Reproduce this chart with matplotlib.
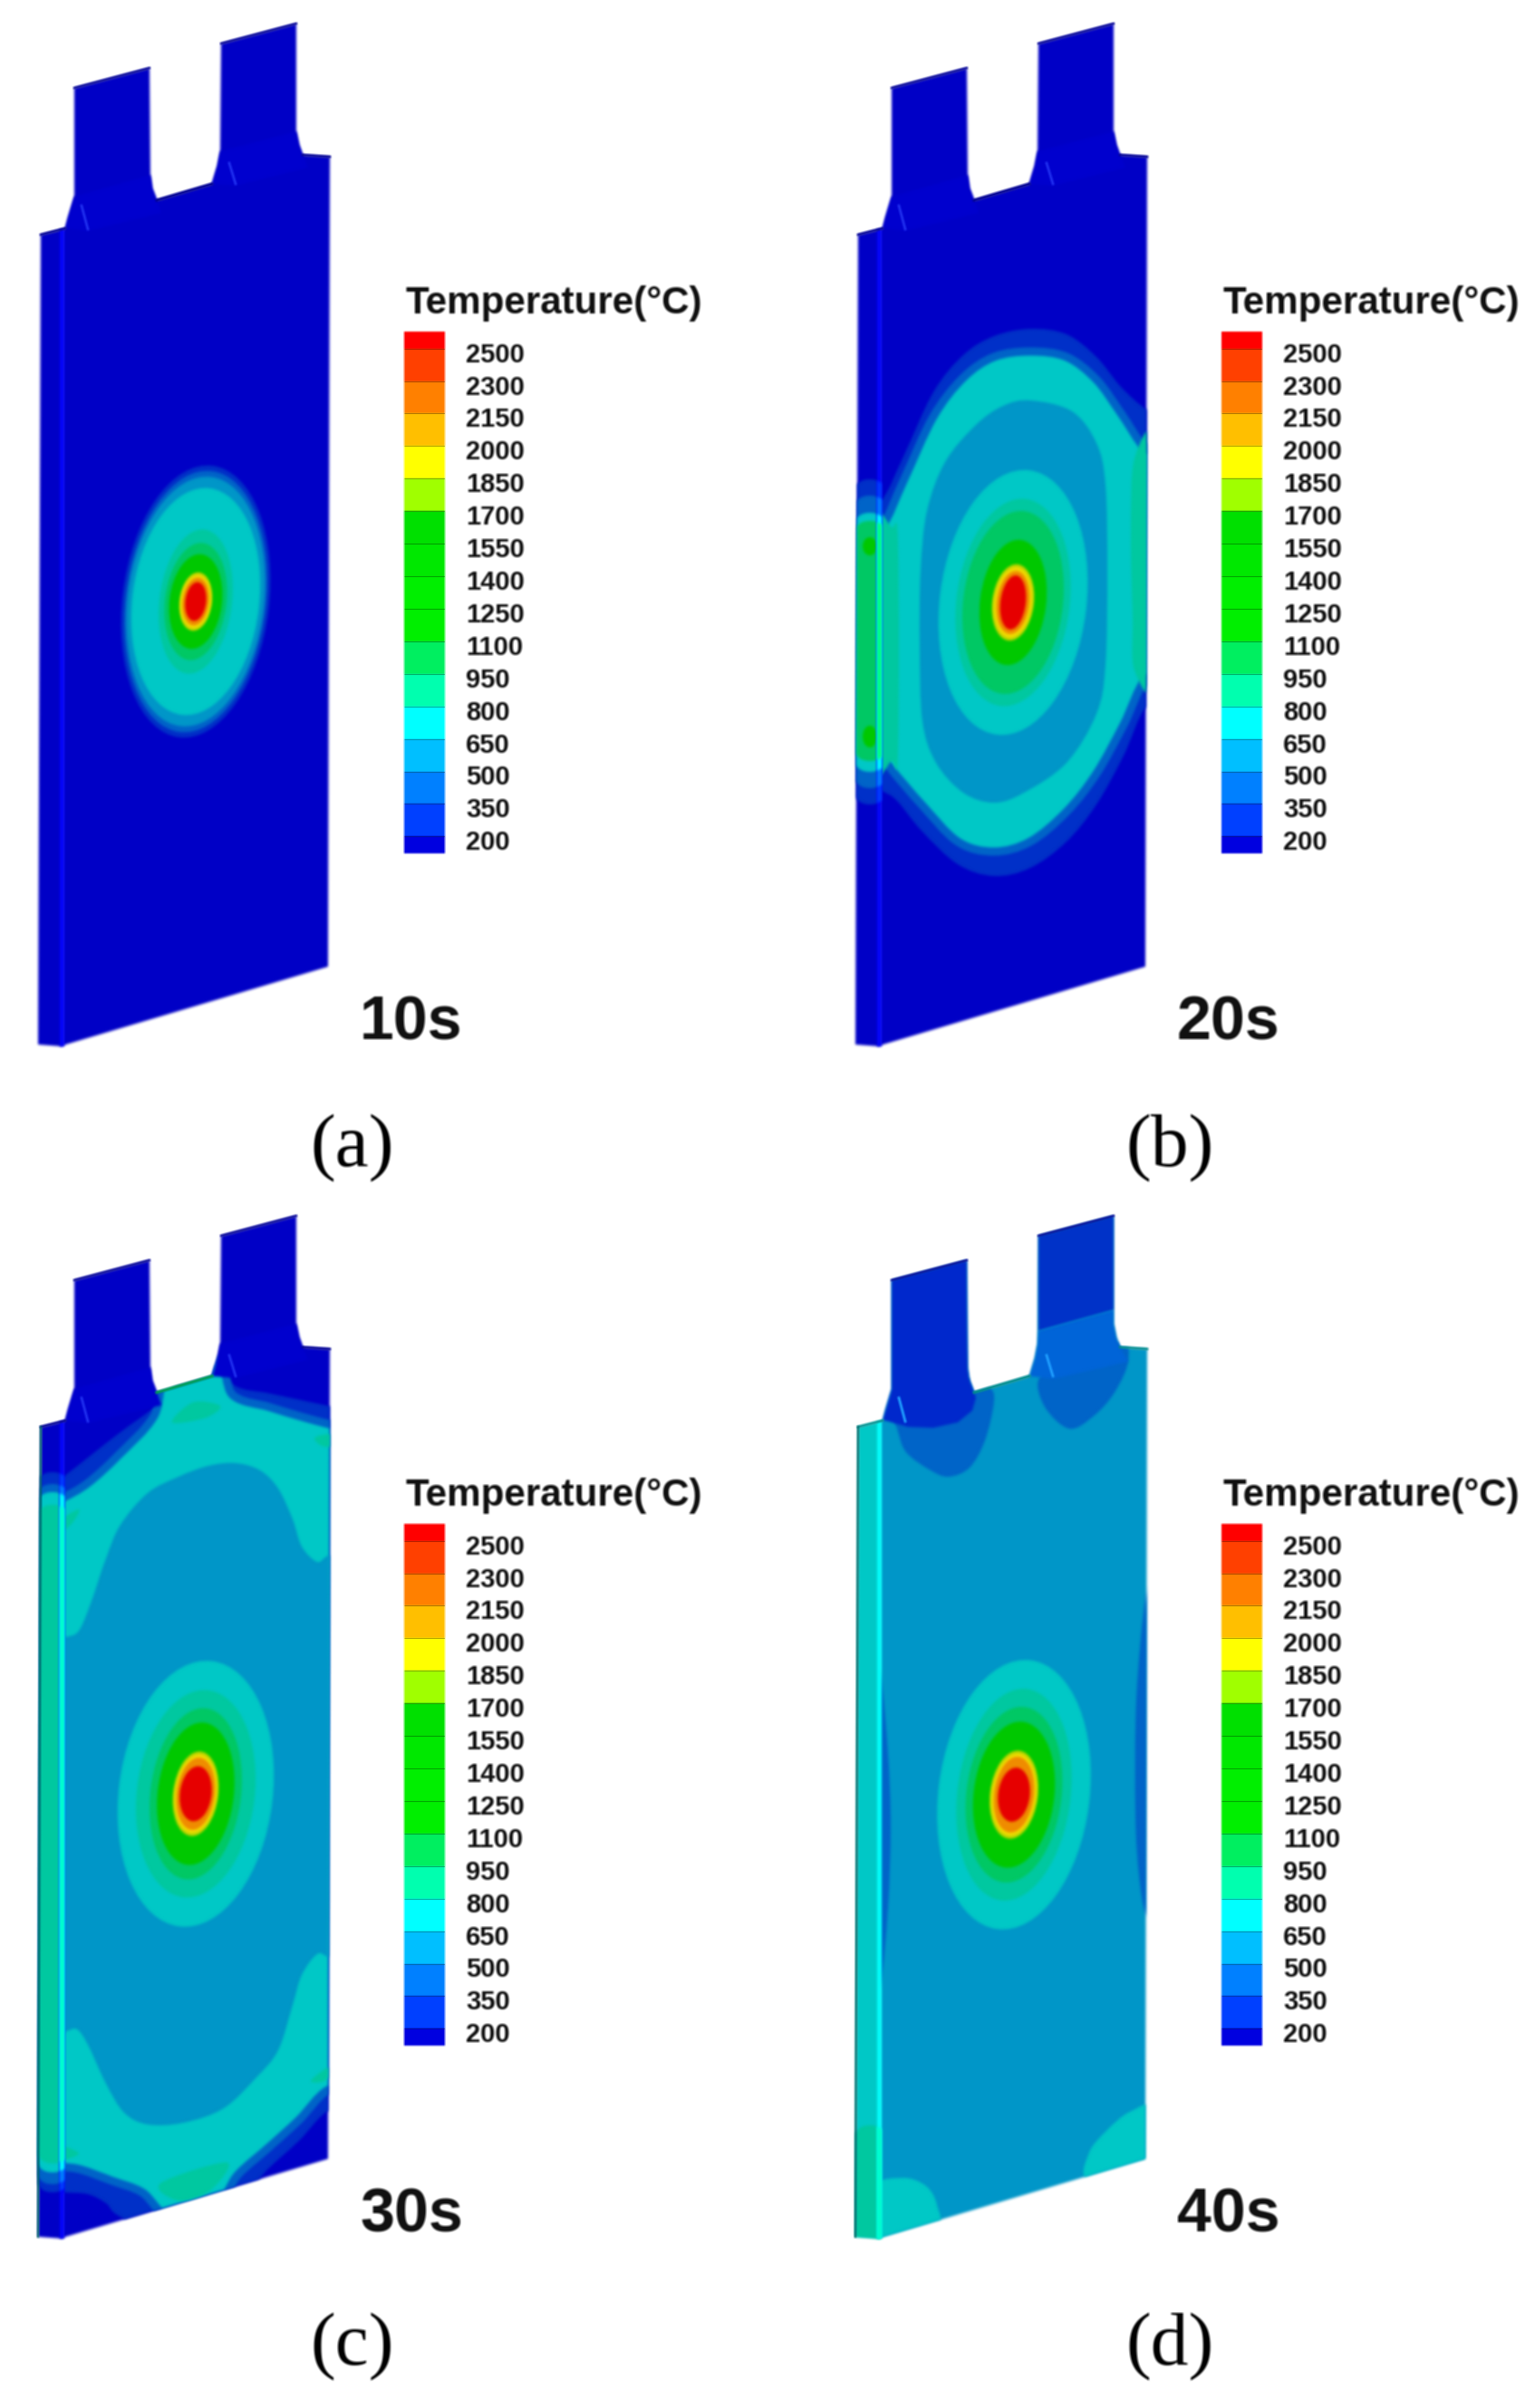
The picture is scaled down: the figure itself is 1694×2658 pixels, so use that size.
import numpy as np
import matplotlib
matplotlib.use('Agg')
import matplotlib.pyplot as plt
from matplotlib.patches import Ellipse, FancyBboxPatch, PathPatch, Polygon
from matplotlib.path import Path

plt.rcParams['font.family'] = ['Liberation Sans', 'DejaVu Sans']

# colour bar
level_labels = [2500, 2300, 2150, 2000, 1850, 1700, 1550, 1400, 1250, 1100, 950, 800, 650, 500, 350, 200]
band_colors = ['#ff0000', '#ff4000', '#ff8000', '#ffbf00', '#ffff00', '#a0ff00', '#00e000', '#00e800',
               '#00f000', '#00f000', '#00f060', '#00ffb0', '#00ffff', '#00bfff', '#0080ff', '#0040ff', '#0000e0']

# colours of the lit plate surface for each level
plate_colors = {200: '#0000c6', 350: '#0030c8', 500: '#0064c8', 650: '#0096c8', 800: '#00c8c6',
                950: '#00c8a0', 1100: '#00c864', 1250: '#00c800', 1850: '#b0d400', 2000: '#f0dc00',
                2150: '#f08c00', 2500: '#e60000'}

time_labels = ['10s', '20s', '30s', '40s']
captions = ['(a)', '(b)', '(c)', '(d)']

# plate outline, pixels of one panel
front_face = [(69, 253), (72, 252), (75, 240), (82, 217), (82, 97), (165, 75), (166, 193), (168, 208), (173, 221),
              (234, 203), (240, 183), (243, 167), (244, 48), (327, 26), (327, 145), (330, 160), (334, 171),
              (364, 173), (362, 1067), (69, 1154)]
side_face = [(45, 259), (69, 253), (69, 1155), (42, 1153)]
stripe = [(66, 253), (71, 253), (71, 1155), (66, 1155)]
tab_flares = [[(82, 217), (166, 193), (173, 221), (178, 235), (97, 255), (72, 252)],
              [(243, 167), (327, 145), (334, 171), (340, 185), (260, 205), (234, 203)]]
creases = [[(90, 227), (97, 253)], [(253, 180), (260, 203)]]
tab_tops = [[(82, 97), (165, 75)], [(244, 48), (327, 26)]]
notch = [(173, 221), (234, 203)]
shoulders = [[(45, 259), (72, 252)], [(334, 171), (364, 173)]]
left_edge = [(45, 259), (42, 1153)]

# isotherm outlines
b_outer = [(40, 575), (71, 552), (95, 504), (128, 433), (161, 392), (195, 371), (235, 363), (275, 369),
           (308, 394), (335, 427), (363, 452), (395, 470), (395, 770), (363, 780), (338, 834), (308, 888),
           (275, 929), (235, 958), (195, 967), (155, 954), (115, 917), (88, 884), (71, 873), (40, 860)]
b_teal = [(40, 600), (71, 581), (95, 531), (128, 460), (161, 417), (195, 394), (235, 388), (275, 394),
          (308, 419), (335, 456), (363, 496), (395, 510), (395, 740), (363, 749), (338, 800), (308, 854),
          (275, 896), (235, 929), (195, 940), (155, 929), (115, 888), (88, 857), (71, 838), (40, 825)]
b_right = [(375, 490), (350, 506), (346, 590), (348, 680), (350, 740), (375, 750)]
b_left = [(60, 585), (82, 582), (89, 600), (89, 830), (82, 840), (60, 838)]
b_core = [(235, 442), (281, 454), (308, 489), (318, 535), (320, 630), (318, 734), (308, 788), (275, 842),
          (228, 875), (195, 886), (161, 875), (131, 842), (116, 796), (113, 713), (114, 630), (121, 564),
          (141, 510), (175, 469), (205, 448)]

c_outer = [(40, 335), (70, 314), (130, 267), (177, 232), (225, 185), (260, 214), (297, 222), (363, 236),
           (400, 245), (400, 1005), (362, 1014), (330, 1047), (297, 1077), (270, 1105), (200, 1160),
           (133, 1131), (117, 1116), (97, 1106), (70, 1104), (40, 1102)]
c_teal = [(40, 350), (70, 337), (97, 321), (130, 291), (170, 247), (185, 195), (240, 185), (257, 224),
          (297, 237), (330, 247), (363, 256), (400, 265), (400, 985), (362, 991), (330, 1024), (297, 1054),
          (263, 1084), (240, 1115), (187, 1130), (157, 1104), (123, 1091), (90, 1079), (70, 1076), (40, 1074)]
c_core = [(260, 299), (287, 307), (307, 327), (323, 361), (333, 391), (350, 408), (363, 401), (395, 395),
          (395, 850), (363, 844), (350, 841), (333, 864), (323, 897), (307, 947), (283, 977), (247, 1011),
          (203, 1027), (163, 1029), (137, 1016), (117, 984), (97, 941), (85, 924), (73, 926), (50, 930),
          (50, 495), (73, 491), (87, 484), (100, 454), (117, 404), (133, 367), (163, 332), (197, 314), (230, 302)]
c_spot_top = [(190, 254), (213, 232), (243, 236), (227, 249)]
c_spot_right = [(347, 272), (355, 268), (368, 268), (368, 280), (355, 280)]
c_spot_left = [(64, 364), (87, 350), (80, 365), (66, 375)]
c_spot_bottom = [(177, 1094), (250, 1071), (233, 1101), (197, 1113)]
c_spot_corner = [(343, 981), (360, 967), (368, 967), (358, 981)]
c_spot_low = [(64, 1052), (87, 1061), (66, 1068)]

d_crescent_left = [(62, 533), (70, 533), (78, 620), (81, 700), (78, 790), (70, 874), (62, 874)]
d_crescent_right = [(370, 448), (362, 448), (352, 559), (351, 687), (355, 755), (362, 797), (370, 797)]
d_corner_left = [(60, 1100), (94, 1088), (120, 1097), (132, 1118), (130, 1145), (60, 1165)]
d_corner_right = [(375, 1010), (345, 1015), (320, 1035), (300, 1060), (300, 1090), (375, 1080)]
d_blob1 = [(82, 240), (88, 261), (98, 287), (125, 307), (145, 314), (168, 304), (185, 274), (195, 231),
           (190, 215), (170, 205), (100, 220)]
d_blob2 = [(245, 205), (251, 237), (278, 261), (305, 247), (328, 221), (343, 187), (335, 165), (280, 190)]
d_tab1 = [(82, 97), (165, 75), (166, 193), (168, 208), (173, 221), (175, 227), (171, 241), (155, 254), (128, 260),
          (100, 259), (75, 252), (72, 252), (82, 217)]
d_tab2_top = [(244, 48), (327, 26), (327, 130), (244, 153)]
d_tab2_low = [(244, 153), (327, 130), (327, 145), (330, 160), (334, 171), (343, 187), (261, 206), (234, 203),
              (240, 183), (243, 167)]

# ring sizes (level, width, height)
rings_a = [(350, 162, 302), (500, 155, 290), (650, 150, 277), (800, 140, 252), (950, 80, 160), (1100, 68, 130),
           (1250, 58, 105), (1850, 36, 65), (2000, 33, 60), (2150, 29, 53), (2500, 23, 43)]
rings_b = [(800, 162, 294), (950, 125, 230), (1100, 110, 203), (1250, 73, 139), (1850, 46, 85), (2000, 42, 79),
           (2150, 36, 70), (2500, 28, 60)]
rings_c = [(800, 170, 295), (950, 130, 230), (1100, 100, 190), (1250, 84, 158), (1850, 50, 94), (2000, 46, 88),
           (2150, 42, 80), (2500, 35, 61)]
rings_d = [(800, 167, 299), (950, 125, 235), (1100, 105, 195), (1250, 89, 162), (1850, 53, 98), (2000, 49, 92),
           (2150, 44, 84), (2500, 35, 60)]

# bands on the side face (level, top, bottom)
side_a = []
side_b = [(350, 529, 888), (500, 547, 870), (800, 566, 852), (1100, 575, 840)]
side_c = [(350, 309, 1104), (500, 322, 1095), (800, 331, 1082), (950, 345, 1072)]
side_d = [(950, 1030, 1190)]


def soften(passes):
    # the source picture is a resampled raster, so edges are slightly soft
    def process(img, dpi):
        pad = passes + 2
        alpha = img[..., 3:4]
        pm = np.pad(np.concatenate([img[..., :3] * alpha, alpha], axis=2), ((pad, pad), (pad, pad), (0, 0)))
        for _ in range(passes):
            for axis in (0, 1):
                pm = (np.roll(pm, 1, axis) + pm + np.roll(pm, -1, axis)) / 3
        a = pm[..., 3:4]
        rgb = np.clip(pm[..., :3] / np.maximum(a, 1e-4), 0, 1)
        return np.concatenate([rgb, a], axis=2), -pad, -pad
    return process


soft_shape = soften(3)
soft_text = soften(1)


def smooth_path(points):
    p = np.array(points, dtype=float)
    n = len(p)
    verts = [p[0]]
    codes = [Path.MOVETO]
    for i in range(n):
        p0, p1, p2, p3 = p[i - 1], p[i], p[(i + 1) % n], p[(i + 2) % n]
        verts += [p1 + (p2 - p0) / 6, p2 - (p3 - p1) / 6, p2]
        codes += [Path.CURVE4] * 3
    return Path(verts, codes)


def shade(level, gain=1.0):
    rgb = np.array(matplotlib.colors.to_rgb(plate_colors[level])) * gain
    return tuple(np.clip(rgb, 0, 1))


def add_shape(ax, patch, clip=None):
    ax.add_patch(patch)
    if clip is not None:
        patch.set_clip_path(clip)
    patch.set_agg_filter(soft_shape)
    return patch


def draw_side(ax, clip, base, bands, spots, gain=1.0):
    ground = add_shape(ax, Polygon(clip, closed=True, fc=shade(base, gain), ec='none', zorder=3))
    for level, top, bottom in bands:
        box = FancyBboxPatch((41, top), 34, bottom - top, boxstyle='round,pad=0,rounding_size=17',
                             fc=shade(level, gain), ec='none', zorder=3)
        add_shape(ax, box, ground)
    for level, x, y, w, h in spots:
        add_shape(ax, Ellipse((x, y), w, h, fc=shade(level, gain), ec='none', zorder=3), ground)


def draw_line(ax, seg, color, lw):
    xs, ys = zip(*seg)
    line, = ax.plot(xs, ys, color=color, lw=lw, zorder=4)
    line.set_agg_filter(soften(1))


def draw_panel(ax, base, blobs, polys, rings, center, side_base, side_bands, side_spots,
               crease_color, notch_color, shoulder_color, dark_left):
    face = add_shape(ax, Polygon(front_face, closed=True, fc=shade(base), ec='none', zorder=2))
    for level, pts, stroke in blobs:
        patch = PathPatch(smooth_path(pts), fc=shade(level), zorder=2,
                          ec=shade(stroke) if stroke else 'none', lw=6.5 if stroke else 0)
        add_shape(ax, patch, face)
    for color, pts in polys:
        add_shape(ax, Polygon(pts, closed=True, fc=color, ec='none', zorder=2), face)
    for level, w, h in rings:
        add_shape(ax, Ellipse(center, w, h, angle=7, fc=shade(level), ec='none', zorder=2), face)

    draw_side(ax, side_face, side_base, side_bands, side_spots)
    draw_side(ax, stripe, side_base, side_bands, side_spots, gain=1.27)

    for seg in creases:
        draw_line(ax, seg, crease_color, 2)
    for seg in tab_tops:
        draw_line(ax, seg, '#000090', 1.6)
    draw_line(ax, notch, notch_color, 2.2)
    for seg in shoulders:
        draw_line(ax, seg, shoulder_color, 1.8)
    if dark_left:
        draw_line(ax, left_edge, '#006868', 1.6)


def add_colorbar(fig, x, y):
    cax = fig.add_axes([x / W, 1 - (y + 576) / H, 45 / W, 576 / H])
    idx = np.arange(len(level_labels))
    edges = np.concatenate([[-0.52], idx, [idx[-1] + 0.52]])
    cmap = matplotlib.colors.ListedColormap(band_colors)
    mesh = cax.pcolormesh([0, 1], edges, np.arange(len(band_colors)).reshape(-1, 1), cmap=cmap,
                          vmin=-0.5, vmax=len(band_colors) - 0.5)
    mesh.set_agg_filter(soften(1))
    cax.hlines(idx, 0, 1, color='k', lw=0.8, alpha=0.3)
    cax.set_ylim(edges[-1], edges[0])
    cax.set_xticks([])
    cax.yaxis.tick_right()
    cax.set_yticks(idx + 0.11)
    cax.set_yticklabels(level_labels, fontsize=21, fontweight='bold', color='#111111')
    cax.tick_params(axis='y', length=0, pad=16.5)
    for t in cax.get_yticklabels():
        t.set_agg_filter(soft_text)
    for s in cax.spines.values():
        s.set_visible(False)


W, H = 1694, 2658
fig = plt.figure(figsize=(W / 100, H / 100), dpi=100, facecolor='white')

light = '#0000ce'
flares = [(light, tab_flares[0]), (light, tab_flares[1])]
navy = '#000090'

panel_blobs = [
    [],
    [(350, b_outer, None), (800, b_teal, 500), (950, b_right, None), (950, b_left, None), (650, b_core, None)],
    [(350, c_outer, None), (800, c_teal, 500), (650, c_core, None), (950, c_spot_top, None),
     (950, c_spot_right, None), (950, c_spot_left, None), (950, c_spot_bottom, None),
     (950, c_spot_corner, None), (950, c_spot_low, None)],
    [(500, d_blob1, None), (500, d_blob2, None), (500, d_crescent_left, None), (500, d_crescent_right, None),
     (800, d_corner_left, None), (800, d_corner_right, None)],
]
panel_polys = [
    flares,
    flares,
    flares,
    [('#0028cc', d_tab1), ('#0032c8', d_tab2_top), ('#0064d8', d_tab2_low)],
]
panel_rings = [rings_a, rings_b, rings_c, rings_d]
panel_centers = [(216, 664), (216, 665), (216, 664), (217, 665)]
panel_base = [200, 200, 200, 650]
side_base = [200, 200, 200, 800]
side_bands = [side_a, side_b, side_c, side_d]
side_spots = [[], [(1250, 58, 603, 16, 20), (1250, 58, 813, 16, 24)], [], []]
crease_colors = ['#2030f0', '#2030f0', '#2030f0', '#20a0ff']
notch_colors = [navy, navy, '#00a050', '#008c8c']
shoulder_colors = [navy, navy, navy, '#008c8c']
dark_lefts = [False, False, True, True]
x_offsets = [0, 902, 0, 902]
y_offsets = [0, 0, 1316, 1316]
panel_heights = [1316, 1316, 1342, 1342]
caption_y = [1268, 1268, 1275, 1275]

for i in range(4):
    x0, y0, ph = x_offsets[i], y_offsets[i], panel_heights[i]
    ax = fig.add_axes([x0 / W, 1 - (y0 + ph) / H, 792 / W, ph / H])
    ax.set_xlim(0, 792)
    ax.set_ylim(ph, 0)
    ax.axis('off')
    draw_panel(ax, panel_base[i], panel_blobs[i], panel_polys[i], panel_rings[i], panel_centers[i],
               side_base[i], side_bands[i], side_spots[i], crease_colors[i], notch_colors[i],
               shoulder_colors[i], dark_lefts[i])
    texts = [ax.text(447, 346, 'Temperature(°C)', fontsize=30.3, fontweight='bold', color='#111111',
                     va='baseline', ha='left'),
             ax.text(397, 1148, time_labels[i], fontsize=49, fontweight='bold', color='#111111',
                     va='baseline', ha='left'),
             ax.text(389, caption_y[i], captions[i], fontsize=60, family=['Liberation Serif', 'DejaVu Serif'],
                     color='black', va='center', ha='center')]
    for t in texts:
        t.set_agg_filter(soft_text)
    add_colorbar(fig, x0 + 446, y0 + 366)

fig.savefig('out.png', dpi=100, facecolor='white')
